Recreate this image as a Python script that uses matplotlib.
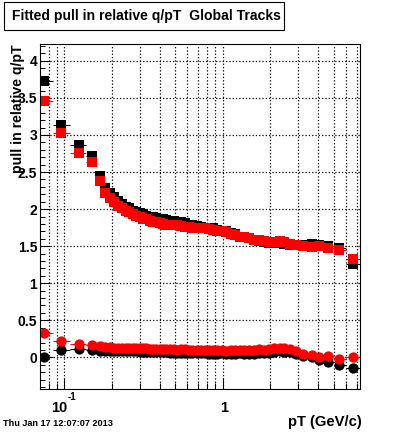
import numpy as np
import matplotlib
matplotlib.use("Agg")
import matplotlib.pyplot as plt
from matplotlib.patches import Rectangle
from matplotlib.ticker import MultipleLocator, LogLocator, NullFormatter, FixedLocator

# bin centres in pT (GeV/c)
pt = [0.075, 0.096, 0.125, 0.150, 0.168, 0.182, 0.195, 0.208, 0.220, 0.232,
      0.245, 0.258, 0.272, 0.286, 0.300, 0.315, 0.330, 0.346, 0.363, 0.380,
      0.400, 0.420, 0.442, 0.465, 0.490, 0.515, 0.545, 0.575, 0.610, 0.645,
      0.685, 0.725, 0.770, 0.820, 0.870, 0.925, 0.985, 1.05, 1.12, 1.20,
      1.28, 1.37, 1.47, 1.58, 1.70, 1.83, 1.97, 2.12, 2.28, 2.45,
      2.65, 2.90, 3.20, 3.64, 4.04, 4.63, 5.43, 6.65]

# upper curves (squares)
black_top = [3.73, 3.13, 2.87, 2.72, 2.44, 2.28, 2.22, 2.16, 2.11, 2.07,
             2.03, 2.01, 1.98, 1.96, 1.95, 1.93, 1.91, 1.90, 1.89, 1.88,
             1.87, 1.86, 1.85, 1.84, 1.84, 1.83, 1.82, 1.81, 1.79, 1.78,
             1.77, 1.76, 1.75, 1.74, 1.74, 1.72, 1.71, 1.70, 1.68, 1.66,
             1.63, 1.62, 1.61, 1.59, 1.57, 1.55, 1.54, 1.54, 1.54, 1.53,
             1.52, 1.52, 1.52, 1.53, 1.52, 1.50, 1.47, 1.26]
red_top = [3.46, 3.02, 2.76, 2.64, 2.38, 2.22, 2.15, 2.09, 2.04, 2.01,
           1.98, 1.96, 1.93, 1.91, 1.89, 1.87, 1.86, 1.84, 1.83, 1.82,
           1.81, 1.80, 1.79, 1.79, 1.78, 1.78, 1.77, 1.76, 1.76, 1.75,
           1.75, 1.74, 1.74, 1.73, 1.72, 1.71, 1.70, 1.69, 1.67, 1.65,
           1.63, 1.62, 1.61, 1.59, 1.58, 1.57, 1.56, 1.56, 1.57, 1.55,
           1.53, 1.52, 1.50, 1.49, 1.50, 1.48, 1.445, 1.33]

# lower curves (circles)
black_bot = [0.01, 0.10, 0.11, 0.10, 0.09, 0.09, 0.09, 0.09, 0.08, 0.08,
             0.08, 0.08, 0.08, 0.08, 0.07, 0.07, 0.07, 0.07, 0.07, 0.07,
             0.07, 0.07, 0.07, 0.06, 0.06, 0.06, 0.06, 0.06, 0.06, 0.06,
             0.06, 0.06, 0.06, 0.05, 0.05, 0.05, 0.06, 0.05, 0.05, 0.05,
             0.06, 0.05, 0.05, 0.05, 0.06, 0.06, 0.06, 0.07, 0.08, 0.07,
             0.07, 0.05, 0.02, 0.00, -0.03, -0.065, -0.10, -0.14]
red_bot = [0.325, 0.22, 0.18, 0.17, 0.155, 0.14, 0.14, 0.13, 0.13, 0.13,
           0.13, 0.12, 0.12, 0.12, 0.12, 0.12, 0.12, 0.11, 0.11, 0.11,
           0.11, 0.11, 0.11, 0.11, 0.11, 0.10, 0.11, 0.11, 0.10, 0.10,
           0.10, 0.10, 0.10, 0.10, 0.10, 0.10, 0.10, 0.09, 0.10, 0.10,
           0.10, 0.10, 0.10, 0.10, 0.11, 0.10, 0.11, 0.12, 0.13, 0.12,
           0.11, 0.08, 0.05, 0.035, 0.01, 0.02, -0.02, 0.01]

y_ticks = [0, 0.5, 1, 1.5, 2, 2.5, 3, 3.5, 4]
y_labels = ["0", "0.5", "1", "1.5", "2", "2.5", "3", "3.5", "4"]
x_ticks = [0.1, 1]
x_labels = ["10", "1"]
x_label_exp = ["-1", ""]


def main():
    plt.rcParams['font.family'] = ['Liberation Sans', 'DejaVu Sans']
    plt.rcParams['font.weight'] = 'bold'

    fig = plt.figure(figsize=(4.0, 4.33), dpi=100)
    ax = fig.add_axes([0.1, 0.101, 0.8, 0.797])

    # horizontal bin widths from the midpoints between centres (log scale)
    x = np.array(pt)
    lx = np.log10(x)
    mids = 10 ** ((lx[1:] + lx[:-1]) / 2)
    lo = np.concatenate([[x[0] ** 2 / mids[0]], mids])
    hi = np.concatenate([mids, [x[-1] ** 2 / mids[-1]]])
    xerr = [x - lo, hi - x]

    for ys, col, mk in [(black_top, 'black', 's'), (red_top, 'red', 's'),
                        (black_bot, 'black', 'o'), (red_bot, 'red', 'o')]:
        ax.errorbar(x, ys, xerr=xerr, fmt=mk, color=col, ms=7.4, mew=0,
                    elinewidth=0.8, capsize=0)

    ax.set_xscale('log')
    ax.set_xlim(0.0706, 7.33)
    ax.set_ylim(-0.43, 4.225)

    ax.xaxis.set_major_locator(FixedLocator(x_ticks))
    ax.set_xticklabels(["" for _ in x_ticks])
    ax.xaxis.set_minor_locator(LogLocator(base=10, subs=np.arange(2, 10)))
    ax.xaxis.set_minor_formatter(NullFormatter())
    ax.set_yticks(y_ticks)
    ax.set_yticklabels(y_labels)
    ax.yaxis.set_minor_locator(MultipleLocator(0.1))

    ax.tick_params(which='both', direction='in', top=False, right=False,
                   labelsize=10, width=0.7)
    ax.tick_params(axis='y', which='major', length=7, pad=2)
    ax.tick_params(axis='y', which='minor', length=3.5)
    ax.tick_params(axis='x', which='major', length=8)
    ax.tick_params(axis='x', which='minor', length=4.5)

    # x tick labels drawn by hand so the exponent sits high like ROOT's
    tr = ax.get_xaxis_transform()
    for xt, base, ex in zip(x_ticks, x_labels, x_label_exp):
        shift = -3.4 if ex else 0.8
        ax.annotate(base, (xt, 0), xycoords=tr, xytext=(shift, -16.3),
                    textcoords='offset points', ha='center', va='baseline',
                    fontsize=10.5, fontweight='bold')
        if ex:
            ax.annotate(ex, (xt, 0), xycoords=tr, xytext=(2.9, -7.8),
                        textcoords='offset points', ha='left', va='baseline',
                        fontsize=7, fontweight='bold')

    ax.grid(True, axis='x', which='both', linestyle=':', color='black', linewidth=0.9)
    ax.grid(True, axis='y', which='major', linestyle=':', color='black', linewidth=0.9)
    for s in ax.spines.values():
        s.set_linewidth(0.8)

    ax.set_ylabel("pull in relative q/pT", fontsize=10.2, fontweight='bold')
    ax.yaxis.set_label_coords(-0.047, 1.0)
    ax.yaxis.label.set_horizontalalignment('right')

    fig.text(362 / 400, 1 - 422 / 433, "pT (GeV/c)", ha='right', va='center',
             fontsize=10.6, fontweight='bold')
    fig.text(3 / 400, 1 - 424 / 433, "Thu Jan 17 12:07:07 2013", ha='left',
             va='center', fontsize=6.6, fontweight='bold')

    # title box
    fig.patches.append(Rectangle((4 / 400, 1 - 30 / 433), 280 / 400, 28 / 433,
                                 transform=fig.transFigure, fill=False,
                                 edgecolor='black', linewidth=0.8))
    fig.text(11.5 / 400, 1 - 16 / 433, "Fitted pull in relative q/pT  Global Tracks",
             ha='left', va='center', fontsize=10.1, fontweight='bold')

    fig.savefig("out.png", dpi=100)


if __name__ == "__main__":
    main()
